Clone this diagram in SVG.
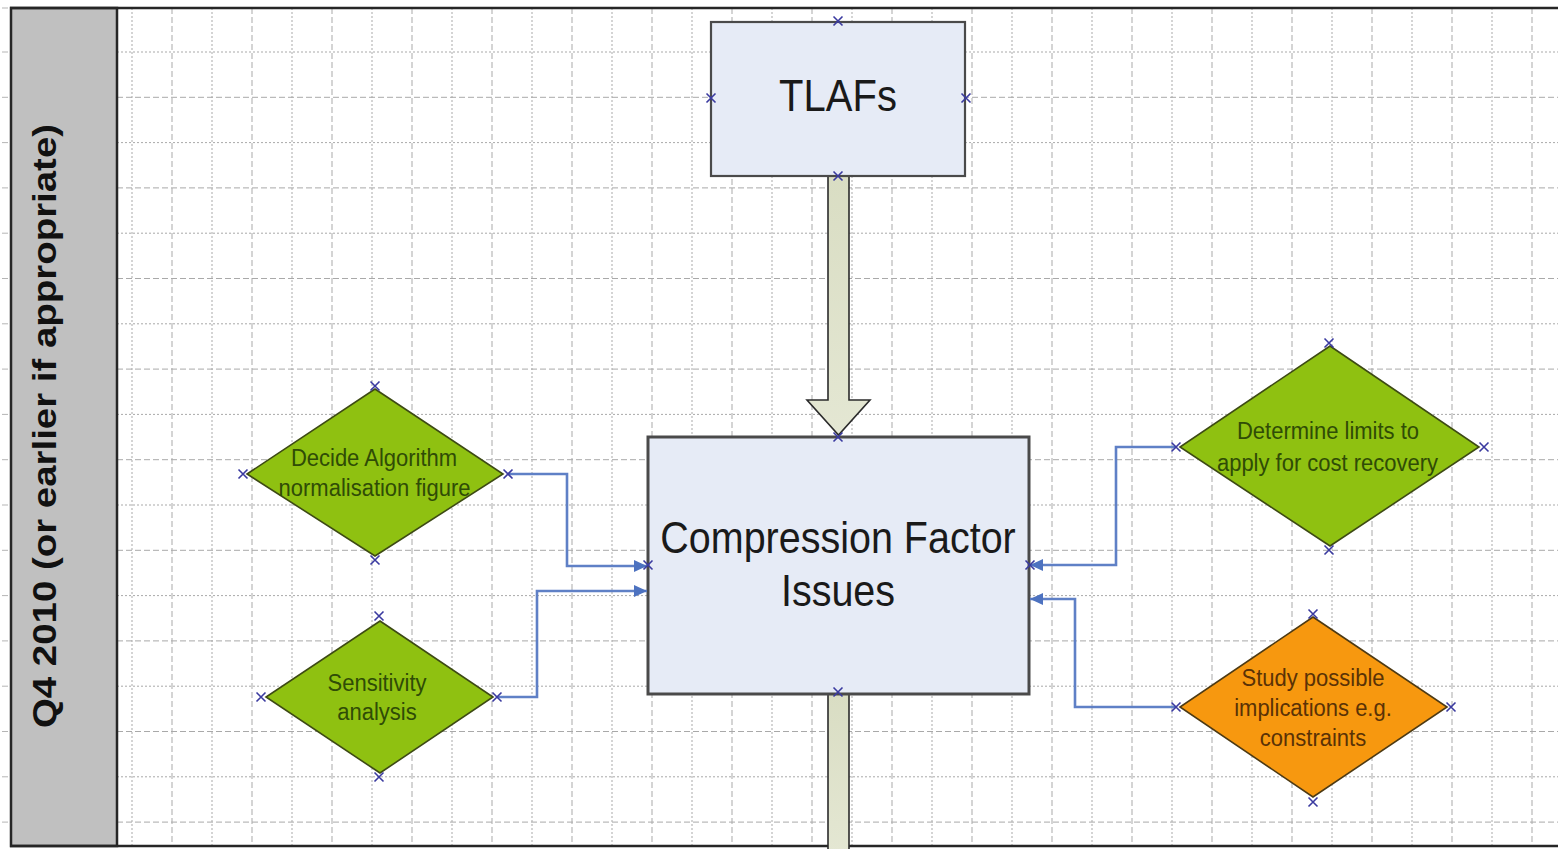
<svg xmlns="http://www.w3.org/2000/svg" xmlns:xlink="http://www.w3.org/1999/xlink" width="1558" height="849" viewBox="0 0 1558 849">
<style>
.gdot{fill:none;stroke:#a9a9a9;stroke-width:1;stroke-dasharray:2,2}
.gdash{fill:none;stroke:#a9a9a9;stroke-width:1;stroke-dasharray:6,3}
.frame{fill:none;stroke:#262626;stroke-width:2.5}
.box{fill:#e6ebf6;stroke:#4a4a4a}
.big{font-family:"Liberation Sans",Arial,sans-serif;fill:#1a1a1a;text-anchor:middle}
.dg{fill:#8fc111;stroke:#3d4a14;stroke-width:1.6}
.dor{fill:#f7980f;stroke:#4d3a14;stroke-width:1.6}
.dt{font-family:"Liberation Sans",Arial,sans-serif;font-size:22px;text-anchor:middle}
.tg{fill:#2f4c06}
.to{fill:#5a3206}
.conn{fill:none;stroke:#5f80c6;stroke-width:2.6}
.xm{fill:none;stroke:#3a3aa0;stroke-width:1.6}
.shaft{fill:url(#ag);stroke:#2b2b2b;stroke-width:1.6}
</style>
<defs>
<linearGradient id="ag" x1="0" y1="0" x2="0" y2="1">
<stop offset="0" stop-color="#d9ddc3"/>
<stop offset="1" stop-color="#e4e7d3"/>
</linearGradient>
<marker id="ah" markerUnits="userSpaceOnUse" markerWidth="14" markerHeight="14" refX="13" refY="7" orient="auto">
<path d="M0,1 L13,7 L0,13 z" fill="#4d72c0"/>
</marker>
<path id="xm" class="xm" d="M-4.5,-4.5 L4.5,4.5 M-4.5,4.5 L4.5,-4.5"/>
</defs>

<rect x="0" y="0" width="1558" height="849" fill="#ffffff"/>

<g id="grid">
<path class="gdot" d="M117,52H1558M117,142.6H1558M117,233.2H1558M117,323.8H1558M117,414.4H1558M117,505H1558M117,595.6H1558M117,686.2H1558M117,776.8H1558"/>
<path class="gdash" d="M117,97.3H1558M117,187.9H1558M117,278.5H1558M117,369.1H1558M117,459.7H1558M117,550.3H1558M117,640.9H1558M117,731.5H1558M117,822.1H1558"/>
<path class="gdot" d="M132,8V846M212,8V846M292,8V846M372,8V846M452,8V846M532,8V846M612,8V846M692,8V846M772,8V846M852,8V846M932,8V846M1012,8V846M1092,8V846M1172,8V846M1252,8V846M1332,8V846M1412,8V846M1492,8V846"/>
<path class="gdash" d="M172,8V846M252,8V846M332,8V846M412,8V846M492,8V846M572,8V846M652,8V846M732,8V846M812,8V846M892,8V846M972,8V846M1052,8V846M1132,8V846M1212,8V846M1292,8V846M1372,8V846M1452,8V846M1532,8V846"/>
<path fill="none" stroke="#b5b5b5" stroke-width="1" d="M2,8H8M2,52H8M2,97.3H8M2,142.6H8M2,187.9H8M2,233.2H8M2,278.5H8M2,323.8H8M2,369.1H8M2,414.4H8M2,459.7H8M2,505H8M2,550.3H8M2,595.6H8M2,640.9H8M2,686.2H8M2,731.5H8M2,776.8H8M2,822.1H8"/>
</g>

<g id="lane">
<rect x="11" y="8" width="106" height="838" fill="#c0c0c0" stroke="#262626" stroke-width="2.5"/>
<path class="frame" d="M10,8H1558M10,846H1558"/>
<text transform="translate(56,426) rotate(-90) scale(1.13,1)" x="0" y="0" font-family="'Liberation Sans',Arial,sans-serif" font-weight="bold" font-size="34" text-anchor="middle" fill="#111">Q4 2010 (or earlier if appropriate)</text>
</g>

<g id="big-arrows">
<path class="shaft" d="M828,176 H849 V400 H870 L838.5,435 L807,400 H828 Z"/>
<rect class="shaft" x="828" y="694" width="21" height="160"/>
</g>

<g id="tlafs">
<rect class="box" x="711" y="22" width="254" height="154" stroke-width="2.2"/>
<text class="big" transform="translate(838,95) scale(1,1.12)" x="0" y="14" font-size="40">TLAFs</text>
</g>

<g id="compression">
<rect class="box" x="648" y="437" width="381" height="257" stroke-width="3"/>
<text class="big" transform="translate(838,537) scale(1,1.12)" x="0" y="14" font-size="39.5">Compression Factor</text>
<text class="big" transform="translate(838,590) scale(1,1.12)" x="0" y="14" font-size="39.5">Issues</text>
</g>

<g id="connectors">
<path class="conn" d="M508,474 H567 V566 H647" marker-end="url(#ah)"/>
<path class="conn" d="M497,697 H537 V591 H647" marker-end="url(#ah)"/>
<path class="conn" d="M1176,447 H1116 V565 H1030" marker-end="url(#ah)"/>
<path class="conn" d="M1176,707 H1075 V599 H1030" marker-end="url(#ah)"/>
</g>

<g id="decide-algorithm">
<polygon class="dg" points="375,389 503,474 375,556 247,474"/>
<text class="dt tg" transform="translate(374,457) scale(1,1.1)" x="0" y="8">Decide Algorithm</text>
<text class="dt tg" transform="translate(374.5,487) scale(1,1.1)" x="0" y="8">normalisation figure</text>
</g>

<g id="sensitivity">
<polygon class="dg" points="380,621 493,697 380,773 266,697"/>
<text class="dt tg" transform="translate(377,682) scale(1,1.1)" x="0" y="8">Sensitivity</text>
<text class="dt tg" transform="translate(377,711) scale(1,1.1)" x="0" y="8">analysis</text>
</g>

<g id="determine-limits">
<polygon class="dg" points="1330,346 1479,447 1330,546 1180,447"/>
<text class="dt tg" transform="translate(1328,430) scale(1,1.1)" x="0" y="8">Determine limits to</text>
<text class="dt tg" transform="translate(1327.5,462) scale(1,1.1)" x="0" y="8">apply for cost recovery</text>
</g>

<g id="study-implications">
<polygon class="dor" points="1313,617 1447,707 1313,797 1180,707"/>
<text class="dt to" transform="translate(1313,677) scale(1,1.1)" x="0" y="8">Study possible</text>
<text class="dt to" transform="translate(1313,707) scale(1,1.1)" x="0" y="8">implications e.g.</text>
<text class="dt to" transform="translate(1313,737) scale(1,1.1)" x="0" y="8">constraints</text>
</g>

<g id="connection-points">
<use xlink:href="#xm" x="838" y="21"/>
<use xlink:href="#xm" x="711" y="98"/>
<use xlink:href="#xm" x="966" y="98"/>
<use xlink:href="#xm" x="838" y="176"/>
<use xlink:href="#xm" x="838" y="437"/>
<use xlink:href="#xm" x="648" y="565"/>
<use xlink:href="#xm" x="1030" y="565"/>
<use xlink:href="#xm" x="838" y="692"/>
<use xlink:href="#xm" x="375" y="386"/>
<use xlink:href="#xm" x="243" y="474"/>
<use xlink:href="#xm" x="508" y="474"/>
<use xlink:href="#xm" x="375" y="560"/>
<use xlink:href="#xm" x="379" y="616"/>
<use xlink:href="#xm" x="261" y="697"/>
<use xlink:href="#xm" x="497" y="697"/>
<use xlink:href="#xm" x="379" y="777"/>
<use xlink:href="#xm" x="1329" y="343"/>
<use xlink:href="#xm" x="1176" y="447"/>
<use xlink:href="#xm" x="1484" y="447"/>
<use xlink:href="#xm" x="1329" y="550"/>
<use xlink:href="#xm" x="1313" y="614"/>
<use xlink:href="#xm" x="1176" y="707"/>
<use xlink:href="#xm" x="1451" y="707"/>
<use xlink:href="#xm" x="1313" y="802"/>
</g>
</svg>
